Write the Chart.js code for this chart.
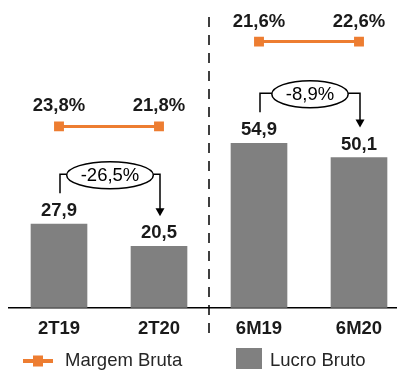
<!DOCTYPE html>
<html>
<head>
<meta charset="utf-8">
<script src="https://cdn.jsdelivr.net/npm/chart.js@4/dist/chart.umd.min.js"></script>
<style>
  html, body { margin: 0; padding: 0; background: #fff; overflow: hidden; }
</style>
</head>
<body>
<canvas id="grafico" width="403" height="370"></canvas>
<script>
var categorias = ['2T19', '2T20', '6M19', '6M20'];
var lucroBruto = [27.9, 20.5, 54.9, 50.1];
var margemBruta = [23.8, 21.8, 21.6, 22.6];
var variacao = [-26.5, -8.9]; // 2T20 x 2T19 e 6M20 x 6M19
var pares = [[0, 1], [2, 3]];

// altura (na escala do lucro) onde a linha de margem fica em cada bloco
var nivelMargem = [60.5, 88.8];

var LARANJA = '#ED7D31';
var CINZA = '#808080';
var TEXTO = '#1a1a1a';
var FONTE = "'Liberation Sans', Arial, sans-serif";

function fmt(v) {
    return v.toFixed(1).replace('.', ',');
}

var rotulos = {
    id: 'rotulos',
    afterDatasetsDraw: function(chart) {
        var ctx = chart.ctx;
        var barras = chart.getDatasetMeta(0).data;
        ctx.save();
        ctx.fillStyle = TEXTO;
        ctx.textAlign = 'center';
        ctx.textBaseline = 'alphabetic';
        ctx.font = 'bold 18.5px ' + FONTE;
        barras.forEach(function(b, i) {
            ctx.fillText(fmt(lucroBruto[i]), b.x, b.y - 8);
        });

        // valores da margem
        [1, 2].forEach(function(ds, k) {
            chart.getDatasetMeta(ds).data.forEach(function(p, j) {
                ctx.fillText(fmt(margemBruta[k * 2 + j]) + '%', p.x, p.y - 15);
            });
        });

        // separador tracejado
        var xs = chart.scales.x.getPixelForValue(1.5);
        ctx.strokeStyle = '#000';
        ctx.lineWidth = 1.5;
        ctx.setLineDash([10, 8]);
        ctx.beginPath();
        ctx.moveTo(xs, chart.chartArea.top + 9);
        ctx.lineTo(xs, chart.chartArea.bottom + 32);
        ctx.stroke();
        ctx.setLineDash([]);

        // variacoes com elipse e seta
        ctx.lineWidth = 1.5;
        pares.forEach(function(par, k) {
            var a = barras[par[0]], b = barras[par[1]];
            var xa = a.x + 1, xb = b.x + 1;
            var yb = Math.min(a.y, b.y) - 50;
            var tip = b.y - 30;
            ctx.beginPath();
            ctx.moveTo(xa, a.y - 31);
            ctx.lineTo(xa, yb);
            ctx.lineTo(xb, yb);
            ctx.lineTo(xb, tip - 7);
            ctx.stroke();
            ctx.beginPath();
            ctx.moveTo(xb - 4.5, tip - 8);
            ctx.lineTo(xb + 4.5, tip - 8);
            ctx.lineTo(xb, tip);
            ctx.closePath();
            ctx.fillStyle = '#000';
            ctx.fill();

            var txt = fmt(variacao[k]) + '%';
            ctx.font = '18.5px ' + FONTE;
            var w = ctx.measureText(txt).width;
            var cx = (xa + xb) / 2, cy = yb + 1;
            ctx.beginPath();
            ctx.ellipse(cx, cy, w / 2 + 14, 13.5, 0, 0, Math.PI * 2);
            ctx.fillStyle = '#fff';
            ctx.fill();
            ctx.stroke();
            ctx.fillStyle = '#000';
            ctx.textBaseline = 'middle';
            ctx.fillText(txt, cx, cy + 1);
            ctx.textBaseline = 'alphabetic';
        });
        ctx.restore();
    },
    afterDraw: function(chart) {
        // legenda
        var ctx = chart.ctx;
        ctx.save();
        ctx.strokeStyle = LARANJA;
        ctx.lineWidth = 4;
        ctx.beginPath();
        ctx.moveTo(23, 361);
        ctx.lineTo(53, 361);
        ctx.stroke();
        ctx.fillStyle = LARANJA;
        ctx.fillRect(33, 355.5, 10, 11);
        ctx.fillStyle = CINZA;
        ctx.fillRect(236, 348, 26, 21);
        ctx.fillStyle = '#262626';
        ctx.font = '18.5px ' + FONTE;
        ctx.textBaseline = 'middle';
        ctx.textAlign = 'left';
        ctx.fillText('Margem Bruta', 65, 361);
        ctx.fillText('Lucro Bruto', 270, 361);
        ctx.restore();
    }
};

var ctx = document.getElementById('grafico');
var chart = new Chart(ctx.getContext('2d'), {
    type: 'bar',
    data: {
        datasets: [{
            label: 'Lucro Bruto',
            data: lucroBruto.map(function(v, i) { return {x: i, y: v}; }),
            backgroundColor: CINZA,
            barThickness: 56,
            order: 2
        }, {
            type: 'line',
            label: 'Margem Bruta',
            data: [{x: 0, y: nivelMargem[0]}, {x: 1, y: nivelMargem[0]}],
            borderColor: LARANJA,
            backgroundColor: LARANJA,
            borderWidth: 3,
            pointStyle: 'rect',
            pointRadius: 7,
            pointBorderWidth: 0,
            order: 1
        }, {
            type: 'line',
            label: 'Margem Bruta 6M',
            data: [{x: 2, y: nivelMargem[1]}, {x: 3, y: nivelMargem[1]}],
            borderColor: LARANJA,
            backgroundColor: LARANJA,
            borderWidth: 3,
            pointStyle: 'rect',
            pointRadius: 7,
            pointBorderWidth: 0,
            order: 1
        }]
    },
    options: {
        responsive: false,
        animation: false,
        layout: {
            padding: { left: 9, top: 8, right: 0, bottom: 20 }
        },
        plugins: {
            legend: { display: false },
            tooltip: { enabled: false }
        },
        scales: {
            x: {
                type: 'linear',
                min: -0.5,
                max: 3.37,
                offset: false,
                afterBuildTicks: function(scale) {
                    scale.ticks = categorias.map(function(c, i) { return {value: i}; });
                },
                ticks: {
                    autoSkip: false,
                    maxRotation: 0,
                    padding: 10,
                    color: TEXTO,
                    font: { family: FONTE, size: 18.5, weight: 'bold' },
                    callback: function(v) { return categorias[v]; }
                },
                grid: { display: false, drawTicks: false },
                border: { display: true, color: '#000', width: 1.5 }
            },
            y: {
                display: false,
                min: 0,
                max: 100
            }
        }
    },
    plugins: [rotulos]
});
</script>
</body>
</html>
